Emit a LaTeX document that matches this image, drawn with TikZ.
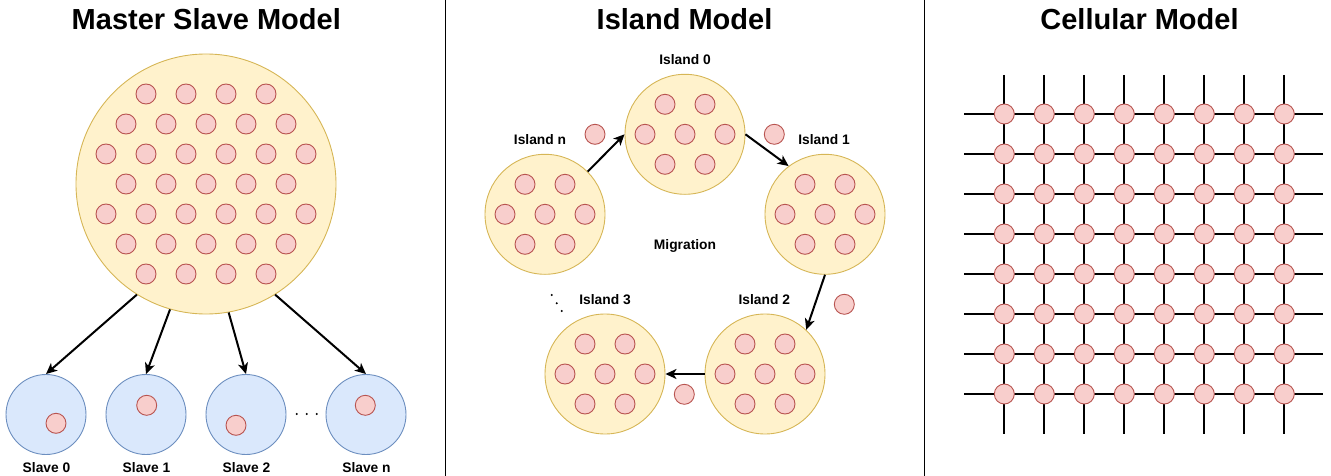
\documentclass[tikz,border=0pt]{standalone}
\usepackage{fontspec}
\setmainfont{Liberation Sans}
\usetikzlibrary{arrows.meta}
\definecolor{yfill}{HTML}{FFF2CC}
\definecolor{ystroke}{HTML}{D6B656}
\definecolor{rfill}{HTML}{F8CECC}
\definecolor{rstroke}{HTML}{B85450}
\definecolor{bfill}{HTML}{DAE8FC}
\definecolor{bstroke}{HTML}{6C8EBF}
\tikzset{
  pop/.style={circle, draw=rstroke, fill=rfill, minimum size=20pt, inner sep=0pt, line width=0.9pt},
  island/.style={circle, draw=ystroke, fill=yfill, minimum size=120pt, inner sep=0pt, line width=0.9pt},
  bigpop/.style={circle, draw=ystroke, fill=yfill, minimum size=260pt, inner sep=0pt, line width=0.9pt},
  slave/.style={circle, draw=bstroke, fill=bfill, minimum size=80pt, inner sep=0pt, line width=0.9pt},
  lbl/.style={font=\bfseries\fontsize{13.8}{16}\selectfont, anchor=base, inner sep=0pt},
  ttl/.style={font=\bfseries\fontsize{29}{34}\selectfont, anchor=base, inner sep=0pt},
  arr/.style={line width=2pt, -{Stealth[length=11pt,width=10pt,inset=3pt]}},
  sep/.style={line width=1pt, black},
  grid/.style={line width=2pt, black},
  dotc/.style={circle, fill=black, inner sep=0pt, minimum size=2.2pt}
}
\begin{document}
\begin{tikzpicture}[x=1pt,y=-1pt]
\useasboundingbox (0,0) rectangle (1331,476);
% separators
\coordinate (s1t) at (445.7,0); \coordinate (s1b) at (445.7,476);
\coordinate (s2t) at (924.5,0); \coordinate (s2b) at (924.5,476);
\draw[sep] (s1t) -- (s1b);
\draw[sep] (s2t) -- (s2b);
% titles
\node[ttl] (t1) at (206.3,29.5) {Master Slave Model};
\node[ttl] (t2) at (684.5,29.5) {Island Model};
\node[ttl] (t3) at (1139.5,29.5) {Cellular Model};

% ---------- Master slave ----------
\node[bigpop] (master) at (206,184) {};
\foreach \y/\xs/\n in {94/146/4, 124/126/5, 154/106/6, 184/126/5, 214/106/6, 244/126/5, 274/146/4}{
  \foreach \k in {1,...,\n}{
    \node[pop] (m-\y-\k) at ({\xs+40*(\k-1)},\y) {};
  }
}
\node[slave] (s0) at (46,414.5) {};
\node[slave] (s1) at (146,414.5) {};
\node[slave] (s2) at (246,414.5) {};
\node[slave] (sn) at (366,414.5) {};
\node[pop] (s0p) at (56,423.3) {};
\node[pop] (s1p) at (146.7,405.3) {};
\node[pop] (s2p) at (236,425.3) {};
\node[pop] (snp) at (365.3,405.3) {};
\node[dotc] (hd1) at (296.7,414) {};
\node[dotc] (hd2) at (306.7,414) {};
\node[dotc] (hd3) at (316.7,414) {};
\draw[arr] (master.238) -- (s0.north);
\draw[arr] (master.254.8) -- (s1.north);
\draw[arr] (master.280) -- (s2.north);
\draw[arr] (master.302) -- (sn.north);
\node[lbl] (l0) at (46.5,472.5) {Slave 0};
\node[lbl] (l1) at (146.5,472.5) {Slave 1};
\node[lbl] (l2) at (246.5,472.5) {Slave 2};
\node[lbl] (ln) at (366.5,472.5) {Slave n};

% ---------- Island model ----------
\foreach \n/\cx/\cy in {i0/685/134.3, in/545/214.3, i1/825/214.3, i2/765/374, i3/605/374}{
  \node[island] (\n) at (\cx,\cy) {};
  \foreach \dx/\dy [count=\k] in {-20/-30,20/-30,-40/0,0/0,40/0,-20/30,20/30}{
    \node[pop] (\n-p\k) at (\cx+\dx,\cy+\dy) {};
  }
}
\node[pop] (mg1) at (595,134.3) {};
\node[pop] (mg2) at (774.3,134.3) {};
\node[pop] (mg3) at (844.3,304.3) {};
\node[pop] (mg4) at (684.3,394.3) {};
\draw[arr] (in.45) -- (i0.west);
\draw[arr] (i0.east) -- (i1.127);
\draw[arr] (i1.south) -- (i2.47);
\draw[arr] (i2.west) -- (i3.east);
\node[lbl] (li0) at (685,64.5) {Island 0};
\node[lbl] (lin) at (540,144.3) {Island n};
\node[lbl] (li1) at (824,144.3) {Island 1};
\node[lbl] (lmig) at (685,249.3) {Migration};
\node[lbl] (li3) at (605,304.3) {Island 3};
\node[lbl] (li2) at (764.3,304.3) {Island 2};
\node[dotc] (dd1) at (551.7,295) {};
\node[dotc] (dd2) at (556.7,303.3) {};
\node[dotc] (dd3) at (561.7,311) {};

% ---------- Cellular model ----------
\foreach \i in {0,...,7}{
  \coordinate (vt\i) at ({1004.3+40*\i},75);
  \coordinate (vb\i) at ({1004.3+40*\i},434);
  \coordinate (hl\i) at (964.3,{114+40*\i});
  \coordinate (hr\i) at (1323.3,{114+40*\i});
  \draw[grid] (vt\i) -- (vb\i);
  \draw[grid] (hl\i) -- (hr\i);
}
\foreach \i in {0,...,7}{
  \foreach \j in {0,...,7}{
    \node[pop] (c-\i-\j) at ({1004.3+40*\i},{114+40*\j}) {};
  }
}
\end{tikzpicture}
\end{document}
